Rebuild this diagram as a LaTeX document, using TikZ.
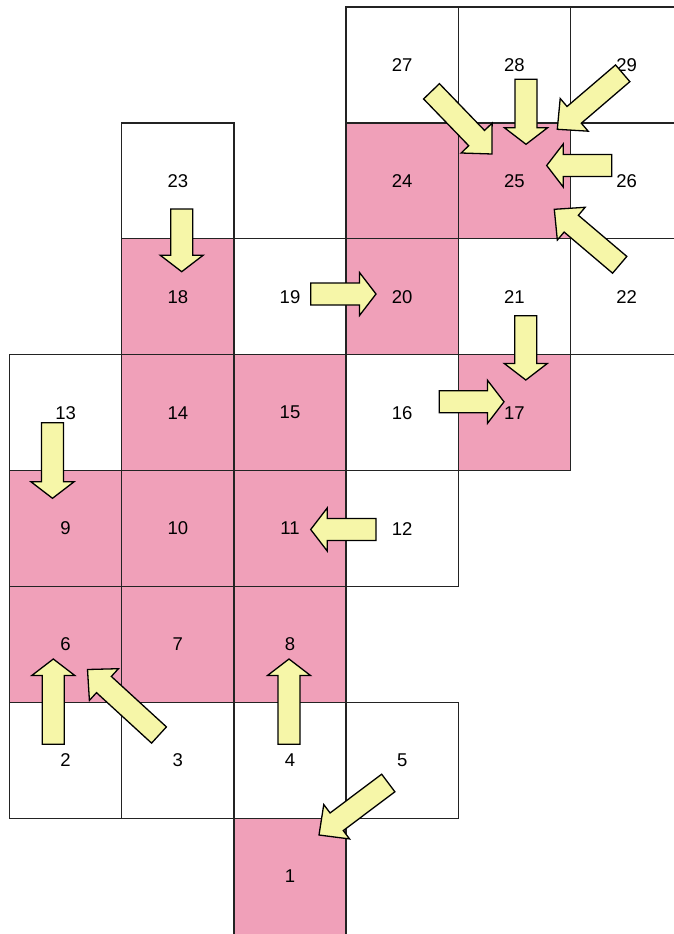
\documentclass[tikz,border=0pt]{standalone}
\usepackage{fontspec}
\setmainfont{Liberation Sans}
\usetikzlibrary{calc}
\definecolor{cellpink}{RGB}{240,160,185}
\definecolor{arrowyellow}{RGB}{246,246,168}
\definecolor{gridline}{RGB}{35,35,35}
\tikzset{
  cell/.style={minimum width=112.2pt, minimum height=115.9pt, inner sep=0pt, outer sep=0pt,
    font=\fontsize{18.5}{20}\selectfont, anchor=center},
  hot/.style={cell, fill=cellpink},
  cold/.style={cell, fill=white},
  gridedge/.style={draw=gridline, line width=1.25pt},
  blockarrow/.style={draw=black, line width=1.3pt, fill=arrowyellow, line join=miter},
}
% #1 head length, #2 tail coordinate, #3 tip coordinate
\newcommand\barrow[3][16.5pt]{%
  \draw[blockarrow] let \p1=($(#3)-(#2)$), \n1={atan2(\y1,\x1)}, \n2={veclen(\x1,\y1)-#1} in
    ($(#2)+(\n1+90:11pt)$) -- ++(\n1:\n2) -- ++(\n1+90:10.5pt) -- (#3)
    -- ($(#2)+(\n1:\n2)+(\n1-90:21.5pt)$) -- ++(\n1+90:10.5pt)
    -- ($(#2)+(\n1-90:11pt)$) -- cycle;}
\begin{document}
\begin{tikzpicture}[x=1pt, y=-1pt]
\useasboundingbox (0,0) rectangle (673,934);
\fill[white] (0,0) rectangle (673,934);
% cells: name/column/row/style
\foreach \n/\i/\j/\s in {27/3/0/cold, 28/4/0/cold, 29/5/0/cold,
    23/1/1/cold, 24/3/1/hot, 25/4/1/hot, 26/5/1/cold,
    18/1/2/hot, 19/2/2/cold, 20/3/2/hot, 21/4/2/cold, 22/5/2/cold,
    13/0/3/cold, 14/1/3/hot, 15/2/3/hot, 16/3/3/cold, 17/4/3/hot,
    9/0/4/hot, 10/1/4/hot, 11/2/4/hot, 12/3/4/cold,
    6/0/5/hot, 7/1/5/hot, 8/2/5/hot,
    2/0/6/cold, 3/1/6/cold, 4/2/6/cold, 5/3/6/cold,
    1/2/7/hot}
  \node[\s] (c\n) at ({65.6+112.2*\i},{64.95+115.9*\j}) {\n};
\foreach \n in {1,...,29}
  \draw[gridedge] (c\n.north west) rectangle (c\n.south east);
% arrow end points
\coordinate (t23) at (181.7,209);   \coordinate (h18) at (181.7,271.7);
\coordinate (t19) at (310.7,294);   \coordinate (h20) at (376,294);
\coordinate (t21) at (525.8,315.7); \coordinate (h17a) at (525.8,380);
\coordinate (t16) at (439.3,401.8); \coordinate (h17b) at (504,401.8);
\coordinate (t13) at (52.5,422.7);  \coordinate (h9) at (52.5,498.3);
\coordinate (t12) at (376,529.5);   \coordinate (h11) at (310.7,529.5);
\coordinate (t2) at (53.3,744.3);   \coordinate (h6a) at (53.3,659);
\coordinate (t3) at (159,735);      \coordinate (h6b) at (87.5,669.5);
\coordinate (t4) at (289,744.3);    \coordinate (h8) at (289,659);
\coordinate (t5) at (388.3,783);    \coordinate (h1) at (319,835);
\coordinate (t27) at (431.5,91.3);  \coordinate (h25a) at (492,154);
\coordinate (t28) at (526,79.3);    \coordinate (h25b) at (526,144.3);
\coordinate (t29) at (622.7,73.3);  \coordinate (h25c) at (557.3,129.3);
\coordinate (t26) at (611.7,165.5); \coordinate (h25d) at (546.7,165.5);
\coordinate (t22) at (619.7,264.8); \coordinate (h25e) at (554.3,209.3);
% arrows
\barrow{t23}{h18}
\barrow{t19}{h20}
\barrow{t21}{h17a}
\barrow{t16}{h17b}
\barrow{t13}{h9}
\barrow{t12}{h11}
\barrow{t2}{h6a}
\barrow[22pt]{t3}{h6b}
\barrow{t4}{h8}
\barrow[22pt]{t5}{h1}
\barrow[22pt]{t27}{h25a}
\barrow{t28}{h25b}
\barrow[22pt]{t29}{h25c}
\barrow{t26}{h25d}
\barrow[22pt]{t22}{h25e}
\end{tikzpicture}
\end{document}
